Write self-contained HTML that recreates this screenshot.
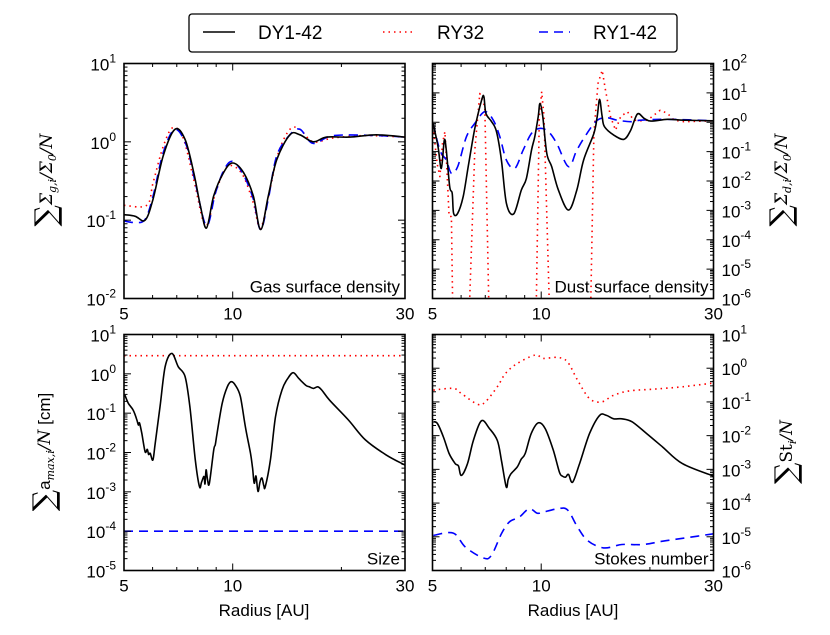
<!DOCTYPE html>
<html><head><meta charset="utf-8"><style>
html,body{margin:0;padding:0;background:#fff;}
svg{display:block;font-family:"Liberation Sans","DejaVu Sans",sans-serif;}
.t{font-size:17px;fill:#000;}
.yl{font-family:"DejaVu Serif","Liberation Serif",serif;font-size:17px;font-style:italic;fill:#000;}
.sum{font-style:normal;font-size:30px;}
</style></head><body>
<svg id="fig" width="830" height="635" viewBox="0 0 830 635" xmlns="http://www.w3.org/2000/svg">
<g>
<rect x="189" y="14" width="488" height="38" rx="3" fill="#fff" stroke="#000" stroke-width="1.3"/>
<line x1="203" y1="32" x2="235" y2="32" stroke="#000" stroke-width="1.6"/>
<text x="258" y="39" class="t" style="font-size:19px">DY1-42</text>
<line x1="383" y1="32" x2="413" y2="32" stroke="#f00" stroke-width="1.6" stroke-dasharray="1.5,4"/>
<text x="437" y="39" class="t" style="font-size:19px">RY32</text>
<line x1="539" y1="32" x2="570" y2="32" stroke="#00f" stroke-width="1.6" stroke-dasharray="9,6"/>
<text x="593" y="39" class="t" style="font-size:19px">RY1-42</text>
</g>
<g transform="translate(52,180) rotate(-90)"><text class="yl" text-anchor="middle" y="0"><tspan class="sum" dy="4">∑</tspan><tspan dy="-4">Σ</tspan><tspan font-size="11" dy="4">g,i</tspan><tspan dy="-4">/Σ</tspan><tspan font-size="11" dy="4">0</tspan><tspan dy="-4">/N</tspan></text></g>
<g transform="translate(787,180) rotate(-90)"><text class="yl" text-anchor="middle" y="0"><tspan class="sum" dy="4">∑</tspan><tspan dy="-4">Σ</tspan><tspan font-size="11" dy="4">d,i</tspan><tspan dy="-4">/Σ</tspan><tspan font-size="11" dy="4">0</tspan><tspan dy="-4">/N</tspan></text></g>
<g transform="translate(50,452) rotate(-90)"><text class="yl" text-anchor="middle" y="0"><tspan class="sum" dy="4">∑</tspan><tspan dy="-4" font-style="normal" font-family="Liberation Sans">a</tspan><tspan font-size="11" dy="4">max,i</tspan><tspan dy="-4">/N</tspan><tspan font-style="normal" font-family="Liberation Sans"> [cm]</tspan></text></g>
<g transform="translate(792,452) rotate(-90)"><text class="yl" text-anchor="middle" y="0"><tspan class="sum" dy="4">∑</tspan><tspan dy="-4" font-style="normal">St</tspan><tspan font-size="11" dy="4">i</tspan><tspan dy="-4">/N</tspan></text></g>
<text x="264" y="616" class="t" text-anchor="middle">Radius [AU]</text>
<text x="573" y="616" class="t" text-anchor="middle">Radius [AU]</text>
</svg>
<script>
// ---- data (radius in AU, value = log10 of quantity) ----
const gasBlackR = [5,5.37,5.72,6.02,6.42,6.92,7.38,7.80,8.14,8.46,8.86,9.44,10.0,10.71,11.4,11.95,12.55,13.24,14.4,15.35,16.7,18.2,21.1,25,30];
const gasBlackV = [-0.93,-0.95,-1.0,-0.73,-0.18,0.16,0.03,-0.39,-0.82,-1.1,-0.69,-0.39,-0.27,-0.39,-0.69,-1.12,-0.69,-0.23,0.09,0.09,0,0.06,0.06,0.09,0.06];
const gasRedR = [5,5.78,6.02,6.42,6.82,7.29,7.80,8.41,8.96,9.53,10.05,10.71,11.4,11.95,12.68,13.38,14.4,15.35,16.7,19.0,23.3,30];
const gasRedV = [-0.81,-0.81,-0.52,-0.06,0.18,0.05,-0.48,-1.07,-0.65,-0.35,-0.31,-0.44,-0.78,-1.1,-0.61,-0.14,0.16,0.16,0,0.05,0.08,0.06];
const gasBlueR = [5,5.37,5.72,6.02,6.42,6.92,7.46,7.88,8.46,8.96,9.48,10.0,10.71,11.4,11.95,12.55,13.24,14.4,15.35,16.7,19.0,25,30];
const gasBlueV = [-1.01,-1.03,-0.99,-0.69,-0.14,0.16,-0.06,-0.52,-1.07,-0.65,-0.35,-0.25,-0.42,-0.73,-1.12,-0.73,-0.18,0.09,0.16,-0.02,0.08,0.08,0.06];

const dustBlackR = [5.02,5.18,5.29,5.39,5.46,5.58,5.67,5.72,5.87,6.08,6.28,6.55,6.84,6.94,7.03,7.29,7.52,7.76,8.01,8.39,8.81,9.10,9.40,9.60,9.81,9.92,10.10,10.36,10.69,11.16,11.90,12.55,13.10,13.99,14.29,14.51,14.75,14.97,15.90,16.95,17.69,18.47,19.28,20.13,22.38,24.86,30];
const dustBlackV = [-0.04,-0.83,-1.57,-0.61,-0.95,-2.19,-2.42,-3.1,-3.1,-2.53,-1.51,-0.21,0.75,0.87,0.30,0.02,-0.32,-1.29,-2.76,-3.12,-2.31,-1.91,-0.95,-0.49,0.19,0.64,0.19,-1.06,-1.51,-2.31,-2.99,-2.31,-1.29,-0.38,0.19,0.78,0.19,-0.15,-0.44,-0.58,-0.27,0.28,0.13,0.04,0.10,0.07,0.05];
const dustRedR = [5.02,5.15,5.24,5.33,5.41,5.46,5.56,5.64,5.70,6.30,6.55,6.76,6.98,7.18,9.67,9.88,10.03,10.18,10.58,13.68,13.99,14.36,14.75,15.07,15.56,16.07,16.59,17.32,18.08,18.87,19.70,21.36,22.38,23.35,24.86,30];
const dustRedV = [-0.15,-1.40,-1.85,-0.72,-0.32,-1.17,-3.21,-3.21,-7,-7,-0.95,0.98,0.53,-7,-7,0.19,1.04,0.19,-7,-7,-0.38,1.32,1.77,1.09,0.19,-0.27,0.19,0.36,0.07,0.05,0.07,0.41,0.30,0.07,0.02,0.05];
const dustBlueR = [5.02,5.24,5.46,5.64,5.87,6.21,6.55,6.98,7.37,7.68,8.01,8.45,8.91,9.40,9.92,10.47,11.04,11.90,12.55,13.39,14.29,15.23,16.24,17.69,18.87,22.38,30];
const dustBlueV = [-0.04,-0.95,-1.29,-1.74,-1.51,-0.49,-0.04,0.36,0.07,-0.49,-1.29,-1.57,-0.95,-0.38,-0.21,-0.32,-0.72,-1.51,-0.95,-0.38,0.07,0.15,0.07,0.02,0.07,0.10,0.05];

const sizeBlackR = [5.03,5.14,5.3,5.42,5.48,5.52,5.6,5.72,5.8,5.85,5.91,6.01,6.1,6.29,6.5,6.78,7.07,7.38,7.61,7.88,8.09,8.2,8.33,8.38,8.44,8.52,8.62,8.86,8.95,9.05,9.35,9.66,9.9,10.17,10.5,10.84,11.2,11.35,11.47,11.6,11.75,11.9,12.05,12.2,12.31,12.72,13.14,13.69,14.2,14.71,15.25,15.93,16.3,16.74,17.2,17.64,18.55,20.9,23.3,26.6,30];
const sizeBlackV = [-0.54,-0.75,-0.92,-1.15,-1.30,-1.25,-1.51,-1.98,-1.92,-2.05,-2.02,-2.19,-1.77,-0.84,0.18,0.52,0.18,-0.07,-0.84,-2.19,-2.87,-2.75,-2.61,-2.80,-2.44,-2.70,-2.78,-1.94,-1.80,-1.51,-0.75,-0.33,-0.20,-0.29,-0.58,-1.35,-2.02,-2.40,-2.78,-2.6,-2.99,-2.75,-2.65,-2.85,-2.87,-2.19,-1.09,-0.41,-0.12,0.03,-0.12,-0.29,-0.33,-0.37,-0.33,-0.41,-0.67,-1.17,-1.68,-2.06,-2.32];
const sizeRedR = [5,30];
const sizeRedV = [0.46,0.46];
const sizeBlueR = [5,30];
const sizeBlueV = [-4.0,-4.0];

const stBlackR = [5.03,5.16,5.36,5.56,5.78,5.9,6.01,6.25,6.49,6.83,7.19,7.56,7.76,8.0,8.1,8.25,8.58,8.8,9.03,9.38,9.82,10.26,10.8,11.23,11.45,11.68,11.9,12.22,12.77,13.61,14.51,15.16,15.88,16.73,17.85,19.6,21.7,24.6,30];
const stBlackV = [-1.59,-1.64,-2.04,-2.53,-2.83,-2.9,-3.18,-2.83,-2.14,-1.56,-1.79,-2.14,-2.73,-3.52,-3.3,-3.13,-2.93,-2.7,-2.53,-1.94,-1.62,-1.79,-2.43,-3.08,-3.2,-3.23,-3.15,-3.38,-2.83,-1.94,-1.40,-1.40,-1.50,-1.50,-1.59,-1.94,-2.34,-2.83,-3.20];
const stRedR = [5.03,5.71,6.01,6.66,7.0,7.56,7.96,8.58,9.62,10.13,11.09,11.82,12.6,13.61,14.7,15.88,17.62,20.6,24.6,30];
const stRedV = [-0.65,-0.60,-0.75,-1.07,-1.0,-0.55,-0.16,0.14,0.39,0.29,0.32,0.19,-0.35,-0.90,-1.0,-0.80,-0.67,-0.62,-0.55,-0.44];
const stBlueR = [5.03,5.71,6.17,6.92,7.28,7.76,8.16,8.69,9.26,9.75,10.13,11.09,11.82,12.6,13.44,14.89,16.73,19.1,21.7,25.2,30];
const stBlueV = [-4.96,-4.89,-5.31,-5.63,-5.55,-4.91,-4.56,-4.42,-4.17,-4.30,-4.27,-4.17,-4.20,-4.71,-5.11,-5.33,-5.23,-5.23,-5.13,-5.03,-4.91];

const xTicks = [5,10,30];
const xMinor = [6,7,8,9,20];

const NS='http://www.w3.org/2000/svg';
const svg=document.getElementById('fig');
function mk(tag,attrs,parent){const e=document.createElementNS(NS,tag);for(const k in attrs)e.setAttribute(k,attrs[k]);(parent||svg).appendChild(e);return e;}

function pathFor(pts,smooth){
  if(!smooth) return pts.map((p,i)=>(i?'L':'M')+p[0].toFixed(1)+','+p[1].toFixed(1)).join(' ');
  let d='M'+pts[0][0].toFixed(1)+','+pts[0][1].toFixed(1);
  for(let i=0;i<pts.length-1;i++){
    const p0=pts[Math.max(0,i-1)],p1=pts[i],p2=pts[i+1],p3=pts[Math.min(pts.length-1,i+2)];
    const c1=[p1[0]+(p2[0]-p0[0])/6,p1[1]+(p2[1]-p0[1])/6];
    const c2=[p2[0]-(p3[0]-p1[0])/6,p2[1]-(p3[1]-p1[1])/6];
    d+=' C'+c1[0].toFixed(1)+','+c1[1].toFixed(1)+' '+c2[0].toFixed(1)+','+c2[1].toFixed(1)+' '+p2[0].toFixed(1)+','+p2[1].toFixed(1);
  }
  return d;
}

let clipId=0;
function panel(o){
  const g=mk('g',{});
  
  
  const X=r=>o.x0+(Math.log(r)-Math.log(5))/(Math.log(30)-Math.log(5))*(o.x1-o.x0);
  const Y=v=>o.y1-(v-o.ymin)/(o.ymax-o.ymin)*(o.y1-o.y0);
  const cid='c'+(clipId++);
  const cp=mk('clipPath',{id:cid},g);mk('rect',{x:o.x0,y:o.y0,width:o.x1-o.x0,height:o.y1-o.y0},cp);
  o.series.forEach(s=>{
    const pts=s.r.map((r,i)=>[X(r),Y(s.v[i])]);
    const p=mk('path',{d:pathFor(pts,s.smooth),fill:'none',stroke:s.c,'stroke-width':1.6,'stroke-dasharray':s.dash||'none','clip-path':'url(#'+cid+')','stroke-linejoin':'round'},g);
    
    
  });
  const tk=mk('g',{stroke:'#000','stroke-width':1},g);
  for(let v=o.ymin;v<=o.ymax;v++){
    const y=Y(v);
    mk('line',{x1:o.x0,y1:y,x2:o.x0+7,y2:y},tk);mk('line',{x1:o.x1,y1:y,x2:o.x1-7,y2:y},tk);
    if(v<o.ymax)for(let m=2;m<10;m++){const ym=Y(v+Math.log10(m));mk('line',{x1:o.x0,y1:ym,x2:o.x0+3.5,y2:ym},tk);mk('line',{x1:o.x1,y1:ym,x2:o.x1-3.5,y2:ym},tk);}
    const t=mk('text',{x:o.right?o.x1+8:o.x0-8,y:y+7,'text-anchor':o.right?'start':'end',class:'t'},g);
    
    
    t.textContent='10';
    const sp=mk('tspan',{dy:-8,'font-size':12},t);sp.textContent=String(v);
  }
  xTicks.forEach(r=>{const x=X(r);mk('line',{x1:x,y1:o.y1,x2:x,y2:o.y1-7},tk);mk('line',{x1:x,y1:o.y0,x2:x,y2:o.y0+7},tk);
    const t=mk('text',{x:x,y:o.y1+21,'text-anchor':'middle',class:'t'},g);
    
    
    t.textContent=r;});
  xMinor.forEach(r=>{const x=X(r);mk('line',{x1:x,y1:o.y1,x2:x,y2:o.y1-3.5},tk);mk('line',{x1:x,y1:o.y0,x2:x,y2:o.y0+3.5},tk);});
  const fr=mk('rect',{x:o.x0,y:o.y0,width:o.x1-o.x0,height:o.y1-o.y0,fill:'none',stroke:'#000','stroke-width':1.6},g);
  
  
  const lb=mk('text',{x:o.x1-5,y:o.y1-6,'text-anchor':'end',class:'t'},g);
  
  
  lb.textContent=o.label;
}
panel({name:'gas-panel',x0:124,x1:405,y0:63.5,y1:298.5,ymin:-2,ymax:1,label:'Gas surface density',series:[
 {r:gasRedR,v:gasRedV,c:'#f00',dash:'1.5,4',n:'gas-ry32-line',smooth:true},
 {r:gasBlueR,v:gasBlueV,c:'#00f',dash:'9,6',n:'gas-ry1-42-line',smooth:true},
 {r:gasBlackR,v:gasBlackV,c:'#000',n:'gas-dy1-42-line',smooth:true}]});
panel({name:'dust-panel',x0:432.5,x1:713.5,y0:63.5,y1:298.5,ymin:-6,ymax:2,right:true,label:'Dust surface density',series:[
 {r:dustRedR,v:dustRedV,c:'#f00',dash:'1.5,4',n:'dust-ry32-line',smooth:false},
 {r:dustBlueR,v:dustBlueV,c:'#00f',dash:'9,6',n:'dust-ry1-42-line',smooth:true},
 {r:dustBlackR,v:dustBlackV,c:'#000',n:'dust-dy1-42-line',smooth:true}]});
panel({name:'size-panel',x0:124,x1:405,y0:334.5,y1:570.5,ymin:-5,ymax:1,label:'Size',series:[
 {r:sizeRedR,v:sizeRedV,c:'#f00',dash:'1.5,4',n:'size-ry32-line'},
 {r:sizeBlueR,v:sizeBlueV,c:'#00f',dash:'9,6',n:'size-ry1-42-line'},
 {r:sizeBlackR,v:sizeBlackV,c:'#000',n:'size-dy1-42-line',smooth:true}]});
panel({name:'stokes-panel',x0:432.5,x1:713.5,y0:334.5,y1:570.5,ymin:-6,ymax:1,right:true,label:'Stokes number',series:[
 {r:stRedR,v:stRedV,c:'#f00',dash:'1.5,4',n:'stokes-ry32-line',smooth:true},
 {r:stBlueR,v:stBlueV,c:'#00f',dash:'9,6',n:'stokes-ry1-42-line',smooth:true},
 {r:stBlackR,v:stBlackV,c:'#000',n:'stokes-dy1-42-line',smooth:true}]});
</script>
</body></html>
